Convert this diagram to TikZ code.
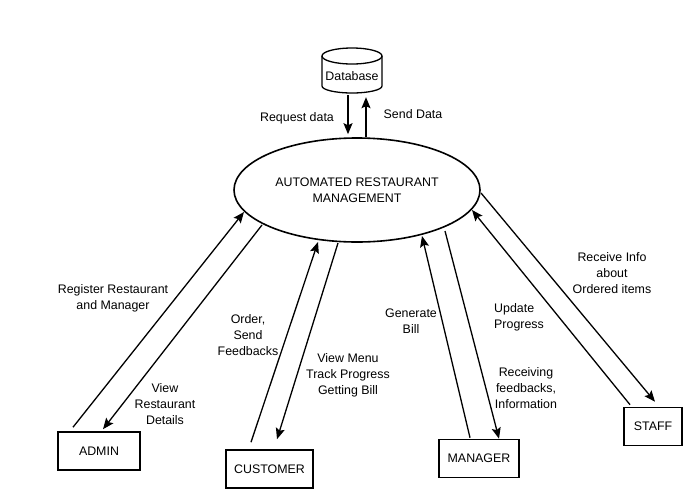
\documentclass[tikz,border=0pt]{standalone}
\usepackage{fontspec}
\setmainfont{Liberation Sans}
\usetikzlibrary{arrows.meta,shapes.geometric}
\begin{document}
\begin{tikzpicture}[x=1pt,y=-1pt,
  every node/.style={font=\fontsize{12.4}{16}\selectfont},
  box/.style={draw,line width=1.6pt,minimum width=#1,minimum height=38pt,inner sep=0pt},
  flow/.style={line width=1.3pt,-{Stealth[length=11pt,width=9pt,inset=2pt]}},
  lbl/.style={align=center,inner sep=0pt}]
\useasboundingbox (0,0) rectangle (685,490);
\fill[white] (0,0) rectangle (685,490);
% main process
\node[draw,ellipse,line width=1.6pt,minimum width=246pt,minimum height=104pt,inner sep=0pt,align=center] (main) at (357,190) {AUTOMATED RESTAURANT\\MANAGEMENT};
% database (cylinder drawn directly)
\draw[line width=1.3pt] (352,56) ellipse [x radius=30pt, y radius=8pt];
\draw[line width=1.3pt] (322,56) -- (322,86) arc[start angle=180, end angle=360, x radius=30pt, y radius=7pt] -- (382,56);
\node[inner sep=0pt,minimum width=60pt,minimum height=34pt] (db) at (352,76) {Database};
% boxes
\node[box=82pt] (admin) at (99,451) {ADMIN};
\node[box=87pt] (customer) at (269.5,469) {CUSTOMER};
\node[box=80pt] (manager) at (479,458.5) {MANAGER};
\node[box=58pt] (staff) at (653,426.5) {STAFF};
% ellipse end points
\coordinate (e1) at (244,212);
\coordinate (e2) at (262,225);
\coordinate (e3) at (318,242);
\coordinate (e4) at (338,243);
\coordinate (e5) at (422,236);
\coordinate (e6) at (445,231);
\coordinate (e7) at (472,210);
\coordinate (e8) at (481,193);
% database flows
\draw[flow] ([xshift=-4pt,yshift=-2pt]db.south) -- ([xshift=-9pt,yshift=3pt]main.north);
\draw[flow] ([xshift=9pt]main.north) -- ([xshift=14pt,yshift=-4pt]db.south);
% admin
\draw[flow] ([xshift=-26pt,yshift=4pt]admin.north) -- (e1);
\draw[flow] (e2) -- ([xshift=4pt,yshift=2pt]admin.north);
% customer
\draw[flow] ([xshift=-18.5pt,yshift=7pt]customer.north) -- (e3);
\draw[flow] (e4) -- ([xshift=7.5pt,yshift=10pt]customer.north);
% manager
\draw[flow] ([xshift=-9pt,yshift=1pt]manager.north) -- (e5);
\draw[flow] (e6) -- ([xshift=20pt]manager.north);
% staff
\draw[flow] ([xshift=-23pt,yshift=2pt]staff.north) -- (e7);
\draw[flow] (e8) -- ([xshift=2pt,yshift=5pt]staff.north);
% labels
\node[lbl] (l1) at (297,118) {Request data};
\node[lbl] (l2) at (413,114) {Send Data};
\node[lbl] (l3) at (113,298) {Register Restaurant\\and Manager};
\node[lbl] (l4) at (165,404) {View\\Restaurant\\Details};
\node[lbl] (l5) at (248,335) {Order,\\Send\\Feedbacks};
\node[lbl] (l6) at (348,375) {View Menu\\Track Progress\\Getting Bill};
\node[lbl] (l7) at (411,321) {Generate\\Bill};
\node[lbl,align=left,anchor=west] (l8) at (494,317) {Update\\Progress};
\node[lbl] (l9) at (526,388) {Receiving\\feedbacks,\\Information};
\node[lbl] (l10) at (612,273) {Receive Info\\about\\Ordered items};
\end{tikzpicture}
\end{document}
